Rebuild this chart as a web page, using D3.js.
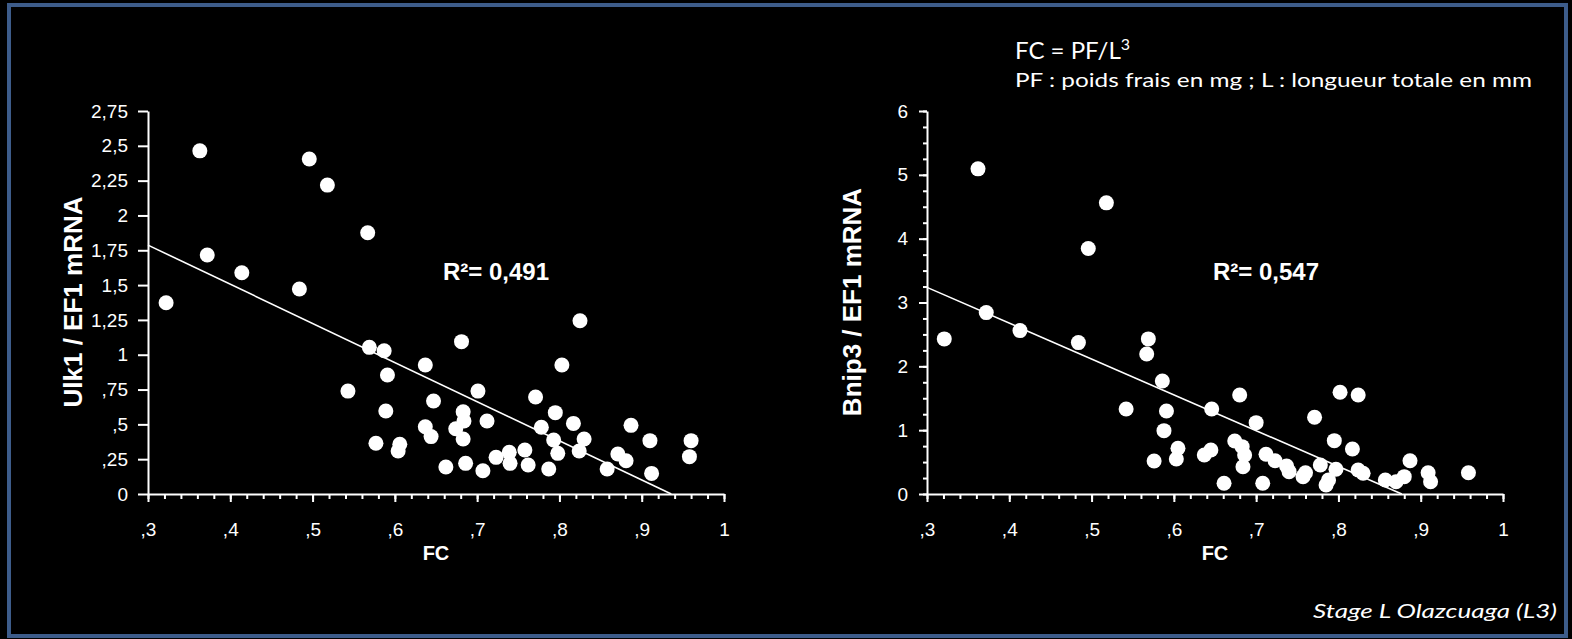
<!DOCTYPE html>
<html>
<head>
<meta charset="utf-8">
<script src="https://cdn.jsdelivr.net/npm/d3@7/dist/d3.min.js"></script>
<style>
body{margin:0;background:#000;}
svg{display:block;color:#fff;}
</style>
</head>
<body>
<div id="cont"></div>
<script>
// FC values (x) and expression values (y)
var ulkFC=[0.322,0.363,0.372,0.414,0.484,0.496,0.518,0.567,0.569,0.587,0.681,0.637,0.803,0.591,0.543,0.701,0.647,0.771,0.589,0.683,0.795,0.712,0.684,0.817,0.887,0.637,0.674,0.778,0.644,0.683,0.793,0.830,0.910,0.960,0.577,0.606,0.604,0.739,0.758,0.723,0.798,0.824,0.871,0.881,0.958,0.740,0.762,0.686,0.662,0.707,0.787,0.858,0.912,0.825];
var ulkVal=[1.373,2.464,1.716,1.589,1.472,2.405,2.218,1.876,1.053,1.029,1.094,0.926,0.926,0.854,0.739,0.739,0.668,0.696,0.596,0.591,0.584,0.524,0.524,0.507,0.493,0.483,0.469,0.479,0.412,0.395,0.388,0.395,0.383,0.383,0.364,0.357,0.309,0.299,0.316,0.263,0.292,0.309,0.287,0.239,0.268,0.220,0.208,0.220,0.194,0.167,0.179,0.179,0.148,1.244];

var bnipFC=[0.362,0.321,0.372,0.413,0.484,0.496,0.518,0.569,0.567,0.586,0.542,0.591,0.646,0.680,0.802,0.824,0.771,0.700,0.588,0.795,0.817,0.674,0.683,0.686,0.605,0.603,0.576,0.645,0.637,0.712,0.723,0.737,0.740,0.684,0.760,0.757,0.778,0.797,0.788,0.785,0.824,0.830,0.857,0.870,0.880,0.887,0.909,0.912,0.958,0.661,0.708];
var bnipVal=[5.094,2.430,2.842,2.560,2.372,3.845,4.561,2.430,2.194,1.771,1.332,1.301,1.332,1.552,1.594,1.552,1.202,1.118,0.992,0.836,0.705,0.831,0.742,0.611,0.716,0.549,0.517,0.690,0.611,0.622,0.522,0.439,0.350,0.428,0.334,0.272,0.455,0.387,0.219,0.141,0.376,0.324,0.219,0.193,0.272,0.522,0.334,0.193,0.334,0.168,0.168];

// fitted lines: intercept, slope
var ulkFit=[2.63,-2.81];
var bnipFit=[4.92,-5.61];
var ulkR2="R²= 0,491";
var bnipR2="R²= 0,547";

var fcTicks=[0.3,0.4,0.5,0.6,0.7,0.8,0.9,1];
var fcTickLabels=[",3",",4",",5",",6",",7",",8",",9","1"];
var ulkTicks=[0,0.25,0.5,0.75,1,1.25,1.5,1.75,2,2.25,2.5,2.75];
var ulkTickLabels=["0",",25",",5",",75","1","1,25","1,5","1,75","2","2,25","2,5","2,75"];
var bnipTicks=[0,1,2,3,4,5,6];
var bnipTickLabels=["0","1","2","3","4","5","6"];

var W=1572,H=639;
var svg=d3.select("#cont").append("svg").attr("width",W).attr("height",H);
svg.append("rect").attr("width",W).attr("height",H).attr("fill","#000");
svg.append("rect").attr("x",9).attr("y",5).attr("width",1557).attr("height",631)
  .attr("fill","none").attr("stroke","#3d5c8a").attr("stroke-width",4);

function panel(o){
  var x=d3.scaleLinear().domain([0.3,1]).range([o.left,o.left+576]);
  var y=d3.scaleLinear().domain([0,o.ymax]).range([494,111]);
  var g=svg.append("g");

  // minor x ticks
  g.append("g").attr("transform","translate(0,494)")
    .call(d3.axisBottom(x).tickValues(d3.range(15,51).map(function(d){return d/50;})).tickSize(5).tickFormat(""))
    .call(function(a){a.select(".domain").remove();});
  g.append("g").attr("transform","translate(0,494)")
    .call(d3.axisBottom(x).tickValues(fcTicks).tickSize(8).tickSizeOuter(0).tickPadding(21)
      .tickFormat(function(d,i){return fcTickLabels[i];}));

  if(o.yminor){
    g.append("g").attr("transform","translate("+o.left+",0)")
      .call(d3.axisLeft(y).tickValues(o.yminor).tickSize(4).tickFormat(""))
      .call(function(a){a.select(".domain").remove();});
  }
  g.append("g").attr("transform","translate("+o.left+",0)")
    .call(d3.axisLeft(y).tickValues(o.yticks).tickSize(o.ytick).tickSizeOuter(0).tickPadding(o.ypad)
      .tickFormat(function(d,i){return o.ylabels[i];}));

  g.selectAll(".domain, .tick line").attr("stroke","#fff").attr("stroke-width",2);
  g.selectAll(".tick text").attr("fill","#fff").style("font-family","'Liberation Sans', Arial, sans-serif").style("font-size","19px");

  // fit line
  var a=o.fit[0],b=o.fit[1];
  var xEnd=-a/b;
  g.append("line")
    .attr("x1",x(0.3)).attr("y1",y(a+b*0.3))
    .attr("x2",x(xEnd)).attr("y2",y(0))
    .attr("stroke","#fff").attr("stroke-width",1.6);

  g.selectAll("circle.pt").data(o.xs).enter().append("circle")
    .attr("class","pt")
    .attr("cx",function(d){return x(d);})
    .attr("cy",function(d,i){return y(o.ys[i]);})
    .attr("r",7.5).attr("fill","#fff");

  g.append("text").attr("x",(x.range()[0]+x.range()[1])/2).attr("y",560)
    .attr("text-anchor","middle").attr("fill","#fff")
    .style("font","bold 20px 'Liberation Sans', Arial, sans-serif").text("FC");

  g.append("text").attr("transform","translate("+(o.left-75)+",302) rotate(-90)")
    .attr("text-anchor","middle").attr("dy","0.35em").attr("fill","#fff")
    .style("font","bold 26px 'Liberation Sans', Arial, sans-serif").text(o.ytitle);

  g.append("text").attr("x",o.r2x).attr("y",280).attr("fill","#fff")
    .style("font","bold 24px 'Liberation Sans', Arial, sans-serif").text(o.r2);
}

panel({left:148,ymax:2.75,yticks:ulkTicks,ylabels:ulkTickLabels,ytick:10,ypad:10,
  xs:ulkFC,ys:ulkVal,fit:ulkFit,ytitle:"Ulk1 / EF1 mRNA",r2:ulkR2,r2x:443});
panel({left:927,ymax:6,yticks:bnipTicks,ylabels:bnipTickLabels,ytick:8,ypad:11,
  yminor:d3.range(0,25).map(function(d){return d/4;}),
  xs:bnipFC,ys:bnipVal,fit:bnipFit,ytitle:"Bnip3 / EF1 mRNA",r2:bnipR2,r2x:1213});

var note=svg.append("text").attr("x",1015).attr("y",59).attr("fill","#fff")
  .style("font","24px Lato, 'Open Sans', sans-serif");
note.append("tspan").text("FC = PF/L");
note.append("tspan").attr("dy",-9).style("font-size","16px").text("3");

svg.append("text").attr("x",1015).attr("y",87).attr("fill","#fff")
  .attr("textLength",517).attr("lengthAdjust","spacingAndGlyphs")
  .style("font","19px Lato, 'Open Sans', sans-serif")
  .text("PF : poids frais en mg ; L : longueur totale en mm");

svg.append("text").attr("x",1313).attr("y",618).attr("fill","#fff")
  .attr("textLength",244).attr("lengthAdjust","spacingAndGlyphs")
  .style("font","italic 20px Lato, 'Open Sans', sans-serif")
  .text("Stage L Olazcuaga (L3)");
</script>
</body>
</html>
